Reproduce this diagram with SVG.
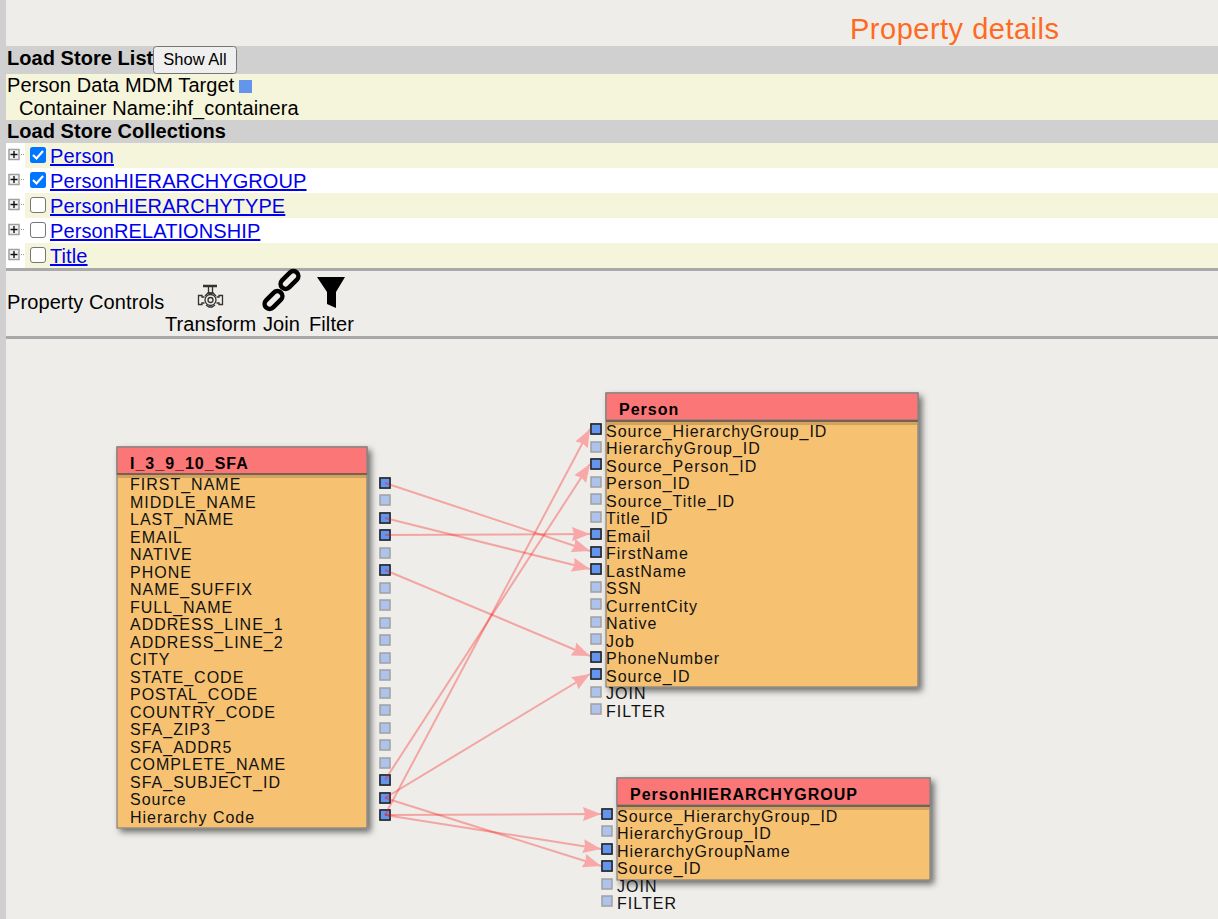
<svg xmlns="http://www.w3.org/2000/svg" width="1218" height="919" viewBox="0 0 1218 919">
<defs>
<style>
text{font-family:"Liberation Sans",Arial,sans-serif;fill:#000}
.t{font-size:20px;letter-spacing:.1px}
.b{font-size:20px;font-weight:bold;letter-spacing:.05px}
.l{font-size:20px;letter-spacing:.1px;fill:#0000ee;text-decoration:underline}
.f{font-size:16px;letter-spacing:1px;fill:#111}
.h{font-size:16px;font-weight:bold;letter-spacing:1px}
.on{fill:#6495ed;stroke:#222;stroke-width:1.5;filter:drop-shadow(0 0 .7px #777)}
.off{fill:#aec3ec;stroke:#a0a0a0;stroke-width:1.5}
.c{stroke:#f00;stroke-width:2;stroke-opacity:.3;fill:none;marker-end:url(#a)}
.hd{fill:#fb7676;stroke:#808080;stroke-width:1.2}
.bd{fill:#f6c272;stroke:#808080;stroke-width:1.2}
.tree{fill:#f4f4f4;stroke:#a0a0a0;stroke-width:1.5}
.chk{fill:#fff;stroke:#767676;stroke-width:1}
.band{fill:#7a6050}
.fade{fill:#b08a50;fill-opacity:.55}
</style>
<marker id="a" viewBox="0 0 18 14" refX="18" refY="7" markerWidth="18" markerHeight="14" markerUnits="userSpaceOnUse" orient="auto"><path d="M0 0L18 7L0 14L2 7Z" fill="#f8a8a8"/></marker>
<filter id="s" x="-5%" y="-5%" width="112%" height="115%"><feDropShadow dx="3.500" dy="3.500" stdDeviation="3" flood-color="#000" flood-opacity=".55"/></filter>
<g id="plus"><rect x="0" y="0" width="10" height="10" class="tree"/><path d="M1.500 5H8.500M5 1.500V8.500" stroke="#111" stroke-width="1.400"/><path d="M12 5H15" stroke="#999" stroke-dasharray="1 1"/></g>
</defs>
<rect width="1218" height="919" fill="#eeede9"/>
<rect x="0" width="6" height="919" fill="#d0d0d0"/>
<text x="850" y="39" style="font-size:29px;letter-spacing:.5px;fill:#ff6a1f">Property details</text>
<g id="load-store-list">
<rect x="6" y="46" width="1212" height="28" fill="#d0d0d0"/>
<text x="7" y="65" class="b">Load Store List</text>
<rect x="153.500" y="46.500" width="83" height="27" rx="3" fill="#efefef" stroke="#767676"/>
<text x="195" y="65" text-anchor="middle" style="font-size:16.500px">Show All</text>
</g>
<g id="target">
<rect x="6" y="74" width="1212" height="46" fill="#f5f5dc"/>
<text x="7" y="92" class="t">Person Data MDM Target</text>
<rect x="239" y="80" width="13" height="13" fill="#6495ed"/>
<text x="19" y="115" class="t">Container Name:ihf_containera</text>
</g>
<g id="collections">
<rect x="6" y="120" width="1212" height="23" fill="#d0d0d0"/>
<text x="7" y="138" class="b">Load Store Collections</text>
<rect x="25" y="143" width="1193" height="25" fill="#f5f5dc"/>
<rect x="6" y="168" width="1212" height="25" fill="#fff"/>
<rect x="25" y="193" width="1193" height="25" fill="#f5f5dc"/>
<rect x="6" y="218" width="1212" height="25" fill="#fff"/>
<rect x="25" y="243" width="1193" height="25" fill="#f5f5dc"/>
<rect x="6" y="143" width="19" height="125" fill="#fff"/>
<use href="#plus" x="9" y="149.500"/>
<use href="#plus" x="9" y="174.500"/>
<use href="#plus" x="9" y="199.500"/>
<use href="#plus" x="9" y="224.500"/>
<use href="#plus" x="9" y="249.500"/>
<rect x="30" y="147" width="16" height="16" rx="2.500" fill="#0075ff"/><path d="M33 155l3.500 3.500L43 151" fill="none" stroke="#fff" stroke-width="2.200"/>
<rect x="30" y="172" width="16" height="16" rx="2.500" fill="#0075ff"/><path d="M33 180l3.500 3.500L43 176" fill="none" stroke="#fff" stroke-width="2.200"/>
<rect x="30.500" y="197.500" width="15" height="15" rx="2.500" class="chk"/>
<rect x="30.500" y="222.500" width="15" height="15" rx="2.500" class="chk"/>
<rect x="30.500" y="247.500" width="15" height="15" rx="2.500" class="chk"/>
<text x="50" y="163" class="l">Person</text>
<text x="50" y="188" class="l">PersonHIERARCHYGROUP</text>
<text x="50" y="213" class="l">PersonHIERARCHYTYPE</text>
<text x="50" y="238" class="l">PersonRELATIONSHIP</text>
<text x="50" y="263" class="l">Title</text>
</g>
<rect x="6" y="268" width="1212" height="3" fill="#a9a9a9"/>
<g id="controls">
<text x="7" y="309" class="t">Property Controls</text>
<g id="icon-transform" fill="none" stroke="#333" stroke-width="1.300">
<path d="M203 286H217" stroke-width="2.500"/>
<path d="M208.500 287V293H212.500V287"/>
<path d="M205 296L208 293H213L216 296"/>
<circle cx="210.500" cy="300" r="5.500"/><circle cx="210.500" cy="300" r="2.500"/>
<path d="M204.500 297H202V295.500H198.500V304.500H202V303H204.500M216.500 297H219V295.500H222.500V304.500H219V303H216.500"/>
<path d="M206 305L209 307H212L215 305"/>
</g>
<text x="165" y="331" class="t">Transform</text>
<g id="icon-join" fill="none" stroke="#000" stroke-width="4.500">
<rect x="263" y="295" width="21" height="10" rx="5" transform="rotate(-45 273.500 300)"/>
<rect x="279" y="275" width="21" height="10" rx="5" transform="rotate(-45 289.500 280)"/>
</g>
<text x="263" y="331" class="t">Join</text>
<path id="icon-filter" d="M317 277H345L336 292V308L327 304V292Z" fill="#000"/>
<text x="309" y="331" class="t">Filter</text>
</g>
<rect x="6" y="336" width="1212" height="3" fill="#a9a9a9"/>
<g id="node-sfa">
<rect x="117" y="447" width="250" height="381" class="bd" filter="url(#s)"/>
<rect x="117" y="447" width="250" height="27" class="hd"/>
<rect x="117" y="473" width="250" height="2" class="band"/>
<rect x="117.600" y="475" width="249" height="3" class="fade"/>
<text x="130" y="468.500" class="h">I_3_9_10_SFA</text>
<text class="f" x="130" y="490">FIRST_NAME</text>
<text class="f" x="130" y="508">MIDDLE_NAME</text>
<text class="f" x="130" y="525">LAST_NAME</text>
<text class="f" x="130" y="543">EMAIL</text>
<text class="f" x="130" y="560">NATIVE</text>
<text class="f" x="130" y="578">PHONE</text>
<text class="f" x="130" y="595">NAME_SUFFIX</text>
<text class="f" x="130" y="613">FULL_NAME</text>
<text class="f" x="130" y="630">ADDRESS_LINE_1</text>
<text class="f" x="130" y="648">ADDRESS_LINE_2</text>
<text class="f" x="130" y="665">CITY</text>
<text class="f" x="130" y="683">STATE_CODE</text>
<text class="f" x="130" y="700">POSTAL_CODE</text>
<text class="f" x="130" y="718">COUNTRY_CODE</text>
<text class="f" x="130" y="735">SFA_ZIP3</text>
<text class="f" x="130" y="753">SFA_ADDR5</text>
<text class="f" x="130" y="770">COMPLETE_NAME</text>
<text class="f" x="130" y="788">SFA_SUBJECT_ID</text>
<text class="f" x="130" y="805">Source</text>
<text class="f" x="130" y="823">Hierarchy Code</text>
<rect x="380" y="478" width="10" height="10" class="on"/>
<rect x="380" y="495" width="10" height="10" class="off"/>
<rect x="380" y="513" width="10" height="10" class="on"/>
<rect x="380" y="530" width="10" height="10" class="on"/>
<rect x="380" y="548" width="10" height="10" class="off"/>
<rect x="380" y="565" width="10" height="10" class="on"/>
<rect x="380" y="583" width="10" height="10" class="off"/>
<rect x="380" y="600" width="10" height="10" class="off"/>
<rect x="380" y="618" width="10" height="10" class="off"/>
<rect x="380" y="635" width="10" height="10" class="off"/>
<rect x="380" y="653" width="10" height="10" class="off"/>
<rect x="380" y="670" width="10" height="10" class="off"/>
<rect x="380" y="688" width="10" height="10" class="off"/>
<rect x="380" y="705" width="10" height="10" class="off"/>
<rect x="380" y="723" width="10" height="10" class="off"/>
<rect x="380" y="740" width="10" height="10" class="off"/>
<rect x="380" y="758" width="10" height="10" class="off"/>
<rect x="380" y="775" width="10" height="10" class="on"/>
<rect x="380" y="793" width="10" height="10" class="on"/>
<rect x="380" y="810" width="10" height="10" class="on"/>
</g>
<g id="node-person">
<rect x="606" y="393" width="312" height="294" class="bd" filter="url(#s)"/>
<rect x="606" y="393" width="312" height="27" class="hd"/>
<rect x="606" y="420" width="312" height="2" class="band"/>
<rect x="606.600" y="422" width="311" height="3" class="fade"/>
<text x="619" y="414.500" class="h">Person</text>
<text class="f" x="606" y="437">Source_HierarchyGroup_ID</text>
<text class="f" x="606" y="454">HierarchyGroup_ID</text>
<text class="f" x="606" y="472">Source_Person_ID</text>
<text class="f" x="606" y="489">Person_ID</text>
<text class="f" x="606" y="507">Source_Title_ID</text>
<text class="f" x="606" y="524">Title_ID</text>
<text class="f" x="606" y="542">Email</text>
<text class="f" x="606" y="559">FirstName</text>
<text class="f" x="606" y="577">LastName</text>
<text class="f" x="606" y="594">SSN</text>
<text class="f" x="606" y="612">CurrentCity</text>
<text class="f" x="606" y="629">Native</text>
<text class="f" x="606" y="647">Job</text>
<text class="f" x="606" y="664">PhoneNumber</text>
<text class="f" x="606" y="682">Source_ID</text>
<text class="f" x="606" y="699">JOIN</text>
<text class="f" x="606" y="717">FILTER</text>
<rect x="591" y="424" width="10" height="10" class="on"/>
<rect x="591" y="442" width="10" height="10" class="off"/>
<rect x="591" y="459" width="10" height="10" class="on"/>
<rect x="591" y="477" width="10" height="10" class="off"/>
<rect x="591" y="494" width="10" height="10" class="off"/>
<rect x="591" y="512" width="10" height="10" class="off"/>
<rect x="591" y="529" width="10" height="10" class="on"/>
<rect x="591" y="547" width="10" height="10" class="on"/>
<rect x="591" y="564" width="10" height="10" class="on"/>
<rect x="591" y="582" width="10" height="10" class="off"/>
<rect x="591" y="599" width="10" height="10" class="off"/>
<rect x="591" y="617" width="10" height="10" class="off"/>
<rect x="591" y="634" width="10" height="10" class="off"/>
<rect x="591" y="652" width="10" height="10" class="on"/>
<rect x="591" y="669" width="10" height="10" class="on"/>
<rect x="591" y="687" width="10" height="10" class="off"/>
<rect x="591" y="704" width="10" height="10" class="off"/>
</g>
<g id="node-phg">
<rect x="617" y="778" width="313" height="102" class="bd" filter="url(#s)"/>
<rect x="617" y="778" width="313" height="27" class="hd"/>
<rect x="617" y="805" width="313" height="2" class="band"/>
<rect x="617.600" y="807" width="312" height="3" class="fade"/>
<text x="630" y="799.500" class="h">PersonHIERARCHYGROUP</text>
<text class="f" x="617" y="822">Source_HierarchyGroup_ID</text>
<text class="f" x="617" y="839">HierarchyGroup_ID</text>
<text class="f" x="617" y="857">HierarchyGroupName</text>
<text class="f" x="617" y="874">Source_ID</text>
<text class="f" x="617" y="892">JOIN</text>
<text class="f" x="617" y="909">FILTER</text>
<rect x="602" y="809" width="10" height="10" class="on"/>
<rect x="602" y="826" width="10" height="10" class="off"/>
<rect x="602" y="844" width="10" height="10" class="on"/>
<rect x="602" y="861" width="10" height="10" class="on"/>
<rect x="602" y="879" width="10" height="10" class="off"/>
<rect x="602" y="896" width="10" height="10" class="off"/>
</g>
<g id="connectors">
<path class="c" d="M385 483L590 551"/>
<path class="c" d="M385 518L590 569"/>
<path class="c" d="M385 535L590 534"/>
<path class="c" d="M385 570L590 656"/>
<path class="c" d="M385 780L590 464"/>
<path class="c" d="M385 815L590 429"/>
<path class="c" d="M385 798L590 674"/>
<path class="c" d="M385 798L601 866"/>
<path class="c" d="M385 815L601 814"/>
<path class="c" d="M385 815L601 849"/>
</g>
</svg>
